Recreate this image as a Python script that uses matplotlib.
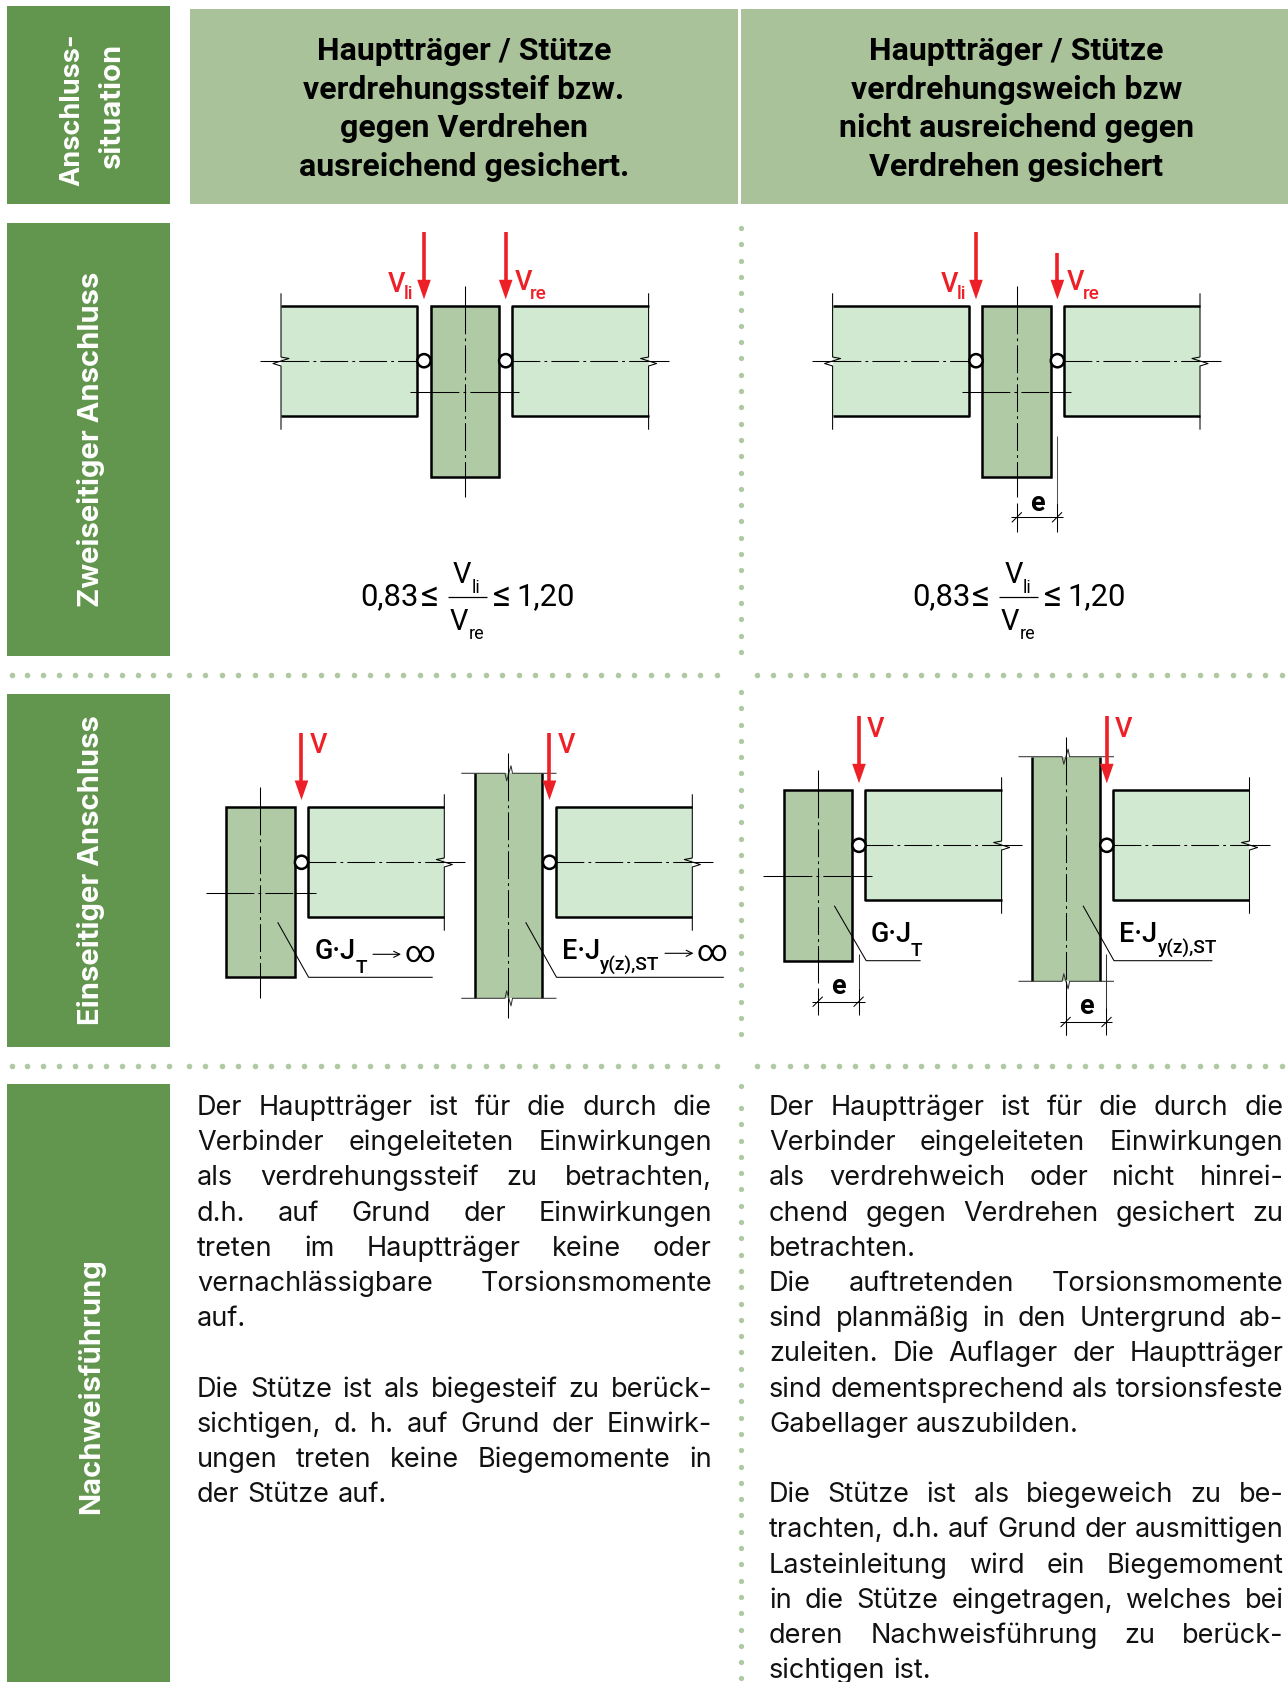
import numpy as np
import matplotlib
matplotlib.use("Agg")
import matplotlib.pyplot as plt
from matplotlib.patches import Circle, Polygon, Rectangle

W, H = 1288, 1682

plt.rcParams["font.family"] = ["Roboto", "DejaVu Sans"]
plt.rcParams["lines.scale_dashes"] = False

# Colours
SIDE = "#62964E"
HEAD = "#A9C29A"
BEAM = "#D1E9D1"
COLUMN = "#B0CAA6"
DOT = "#AFC9A2"
RED = "#EE2027"

# Text content
side_labels = ["Anschluss-", "situation", "Zweiseitiger Anschluss", "Einseitiger Anschluss", "Nachweisführung"]
head_left = ["Hauptträger / Stütze", "verdrehungssteif bzw.", "gegen Verdrehen", "ausreichend gesichert."]
head_right = ["Hauptträger / Stütze", "verdrehungsweich bzw", "nicht ausreichend gegen", "Verdrehen gesichert"]
body_left = [
    "Der Hauptträger ist für die durch die",
    "Verbinder eingeleiteten Einwirkungen",
    "als verdrehungssteif zu betrachten,",
    "d.h. auf Grund der Einwirkungen",
    "treten im Hauptträger keine oder",
    "vernachlässigbare Torsionsmomente",
    "auf.|",
    "",
    "Die Stütze ist als biegesteif zu berück-",
    "sichtigen, d. h. auf Grund der Einwirk-",
    "ungen treten keine Biegemomente in",
    "der Stütze auf.|",
]
body_right = [
    "Der Hauptträger ist für die durch die",
    "Verbinder eingeleiteten Einwirkungen",
    "als verdrehweich oder nicht hinrei-",
    "chend gegen Verdrehen gesichert zu",
    "betrachten.|",
    "Die auftretenden Torsionsmomente",
    "sind planmäßig in den Untergrund ab-",
    "zuleiten. Die Auflager der Hauptträger",
    "sind dementsprechend als torsionsfeste",
    "Gabellager auszubilden.|",
    "",
    "Die Stütze ist als biegeweich zu be-",
    "trachten, d.h. auf Grund der ausmittigen",
    "Lasteinleitung wird ein Biegemoment",
    "in die Stütze eingetragen, welches bei",
    "deren Nachweisführung zu berück-",
    "sichtigen ist.|",
]

THICK = 1.8
THIN = 0.75
DASHDOT = (0, (20, 3, 2, 3))

fig = plt.figure(figsize=(W / 100, H / 100), dpi=100)
ax = fig.add_axes([0, 0, 1, 1])
ax.set_xlim(0, W)
ax.set_ylim(H, 0)
ax.axis("off")
renderer = fig.canvas.get_renderer()


def px(size):
    return size * 0.72


def rect(x0, y0, x1, y1, color, z=1):
    ax.add_patch(Rectangle((x0, y0), x1 - x0, y1 - y0, fc=color, ec="none", zorder=z))


def line(xs, ys, lw=THIN, color="black", z=4, **kw):
    ax.plot(xs, ys, color=color, lw=lw, solid_capstyle="butt", zorder=z, **kw)


def axis_h(x0, x1, y, a, b):
    # solid outside the part, dash-dot across it
    line([x0, a], [y, y])
    line([b, x1], [y, y])
    line([a, b], [y, y], ls=DASHDOT)


def axis_v(x, y0, y1, a, b):
    line([x, x], [y0, a])
    line([x, x], [b, y1])
    line([x, x], [a, b], ls=DASHDOT)


def arrow(x, y0, y1):
    line([x, x], [y0, y1 - 12], lw=2.6, color=RED, z=6)
    ax.add_patch(Polygon([(x - 6.8, y1 - 19.5), (x + 6.8, y1 - 19.5), (x, y1)], fc=RED, ec="none", zorder=6))


def hinge(x, y):
    ax.add_patch(Circle((x, y), 6.6, fc="white", ec="black", lw=THICK, zorder=7))


def beam(x_in, x_end, top, bottom):
    # x_in is the end at the hinge, x_end the broken end
    s = 1 if x_end > x_in else -1
    mid = (top + bottom) / 2
    rect(min(x_in, x_end), top, max(x_in, x_end), bottom, BEAM)
    line([x_end, x_in, x_in, x_end], [top, top, bottom, bottom], lw=THICK)
    zx = [x_end, x_end, x_end - 8 * s, x_end + 8 * s, x_end, x_end]
    zy = [top - 13, mid - 4, mid - 2.5, mid + 2.5, mid + 5, bottom + 14]
    line(zx, zy)


def stub_column(x0, x1, top, bottom):
    rect(x0, top, x1, bottom, COLUMN)
    ax.add_patch(Rectangle((x0, top), x1 - x0, bottom - top, fc="none", ec="black", lw=THICK, zorder=4))


def long_column(x0, x1, top, bottom, xa):
    rect(x0, top, x1, bottom, COLUMN)
    line([x0, x0], [top, bottom], lw=THICK)
    line([x1, x1], [top, bottom], lw=THICK)
    line([x0 - 13.5, xa - 3.5, xa - 1.8, xa + 2.5, xa + 4, x1 + 14],
         [top, top, top + 7.5, top - 7.5, top, top], color="#333333")
    line([x0 - 13.5, xa - 3.5, xa - 1.8, xa + 2.5, xa + 4, x1 + 14],
         [bottom, bottom, bottom - 7.5, bottom + 7.5, bottom, bottom], color="#333333")


def leader(x0, y0, x1, y1, x2):
    line([x0, x1, x2], [y0, y1, y1], z=5)


def dim_e(xa, xb, y, ya, yb, label_y):
    # dimension with two slashes, label sits above the line
    line([xa - 6, xb + 6], [y, y])
    line([xa, xa], [ya, yb])
    line([xb, xb], [ya, yb])
    for xx in (xa, xb):
        line([xx - 5, xx + 5], [y + 5, y - 5])
    ax.text((xa + xb) / 2 + 0.5, label_y, "e", fontsize=px(27), fontweight="bold", ha="center", va="center", zorder=6)


def sub_label(x, base, main, sub_x, sub_base, sub, color="black", size=27, sub_size=19, weight="medium"):
    ax.text(x, base, main, fontsize=px(size), color=color, va="baseline", ha="left", fontweight=weight, zorder=6)
    if sub:
        ax.text(sub_x, sub_base, sub, fontsize=px(sub_size), color=color, va="baseline", ha="left", fontweight=weight, zorder=6)


def formula(xl):
    base = 605
    big = dict(fontsize=px(31), va="baseline", zorder=6)
    small = dict(fontsize=px(18), va="baseline", zorder=6)
    leq = dict(fontsize=px(36), va="baseline", zorder=6)
    ax.text(xl - 87.5, base, "0,83", **big)
    ax.text(xl - 27, base + 1, "≤", **leq)
    line([xl, xl + 39], [596.7, 596.7], lw=0.9)
    ax.text(xl + 5, 583.3, "V", fontsize=px(29), va="baseline", zorder=6)
    ax.text(xl + 23.5, 592.7, "li", **small)
    ax.text(xl + 1.5, 630, "V", fontsize=px(29), va="baseline", zorder=6)
    ax.text(xl + 20.5, 639.3, "re", **small)
    ax.text(xl + 45, base + 1, "≤", **leq)
    ax.text(xl + 68, base, "1,20", **big)


def two_sided(b0, b1, c0, c1, b2, b3, cx, ax0, ax1, hx0, hx1, al, ar, ar_top, li_x, re_x):
    top, bottom, col_bottom = 306.3, 415.7, 476.7
    beam(b1, b0, top, bottom)
    beam(b2, b3, top, bottom)
    stub_column(c0, c1, top, col_bottom)
    axis_h(ax0, b1, 360.7, b0, b1)
    axis_h(b2, ax1, 360.7, b2, b3)
    axis_h(hx0, hx1, 392, c0, c1)
    axis_v(cx, 286, 497.3, top, col_bottom)
    hinge(al, 360.7)
    hinge(ar, 360.7)
    arrow(al, 231.7, 299.3)
    arrow(ar, ar_top, 299.3)
    sub_label(li_x, 291.7, "V", li_x + 16, 298.5, "li", RED)
    sub_label(re_x, 290, "V", re_x + 15.5, 298.5, "re", RED)


def side_text(x, y, s, size):
    ax.text(x, y, s, color="white", fontsize=size, fontweight="bold", rotation=90,
            ha="center", va="center", family=["Inter", "DejaVu Sans"], zorder=3)


def justified(x0, x1, base, text, size):
    last = text.endswith("|")
    words = text.rstrip("|").split()
    items = [ax.text(0, base, w, fontsize=size, color="#111111", va="baseline", ha="left",
                     family=["Inter", "DejaVu Sans"], zorder=6) for w in words]
    widths = [t.get_window_extent(renderer).width for t in items]
    gap = 8.0 if last or len(words) < 2 else (x1 - x0 - sum(widths)) / (len(words) - 1)
    x = x0
    for t, w in zip(items, widths):
        t.set_x(x)
        x += w + gap


# Backgrounds
for y0, y1 in [(6, 204), (222.7, 656.4), (694, 1047), (1084.3, H)]:
    rect(7, y0, 170.5, y1, SIDE)
rect(190, 9, 738.5, 204, HEAD)
rect(741.5, 9, W, 204, HEAD)

# Dotted separators
for yy in (675.3, 1065.7):
    ax.plot(np.arange(11.7, 170, 15.75), np.full(11, yy), "o", color=DOT, ms=4, mec="none", zorder=2)
    row = np.arange(189, 718, 16.5)
    ax.plot(row, np.full(row.size, yy), "o", color=DOT, ms=4, mec="none", zorder=2)
    row = np.arange(757, 1288, 16.4)
    ax.plot(row, np.full(row.size, yy), "o", color=DOT, ms=4, mec="none", zorder=2)
for y0, y1 in [(228, 657), (692, 1045), (1108, H)]:
    col = np.arange(y0, y1, 16.3)
    ax.plot(np.full(col.size, 741), col, "o", color=DOT, ms=3.8, mec="none", zorder=2)
ax.plot([741], [1086], "o", color=DOT, ms=3.8, mec="none", zorder=2)

# Sidebar labels
side_text(72, 110, side_labels[0], 19.5)
side_text(112, 105, side_labels[1], 21)
side_text(91, 439.5, side_labels[2], 21)
side_text(91, 870, side_labels[3], 21)
side_text(91, 1386, side_labels[4], 21)

# Header
for i, (a, b) in enumerate(zip(head_left, head_right)):
    yb = 60 + 38.7 * i
    ax.text(464, yb, a, fontsize=23, fontweight="bold", ha="center", va="baseline", zorder=6)
    ax.text(1016.5, yb, b, fontsize=23, fontweight="bold", ha="center", va="baseline", zorder=6)

# Two-sided connections
two_sided(281, 417, 430.7, 499, 512.5, 648.6, 464.6, 260, 669, 409.6, 519.3, 424, 505.7, 231.7, 388.2, 514.6)
two_sided(832.6, 969, 982, 1051, 1064, 1200, 1016.8, 812, 1221, 961.6, 1071, 976, 1057.4, 252.7, 940.5, 1067)
formula(448)
formula(999.4)
line([1057, 1057], [435.7, 503], color="#555555")
dim_e(1016.8, 1057, 517.3, 503, 531.7, 503)

# One-sided connections, left column
stub_column(226.5, 295, 807.3, 977.3)
axis_v(260.5, 787, 998.3, 807.3, 977.3)
axis_h(206.5, 315.6, 892.7, 226.5, 295)
beam(308.2, 444.3, 807.3, 916.7)
axis_h(308.2, 465, 862.3, 308.2, 444.3)
hinge(301.5, 862.3)
arrow(301.5, 732.7, 800)
sub_label(310, 752.7, "V", 0, 0, "", RED)
leader(277.7, 922.3, 308.6, 977.3, 432.7)
sub_label(315, 959.3, "G·J", 355.5, 972.7, "T")
ax.annotate("", xy=(401, 954.3), xytext=(373, 954.3), arrowprops=dict(arrowstyle="->", lw=0.8, mutation_scale=11, shrinkA=0, shrinkB=0), zorder=6)
ax.text(420.5, 954, "∞", fontsize=px(30), ha="center", va="center", zorder=6)

long_column(474.8, 542.5, 773.3, 998.3, 508.5)
axis_v(508.5, 753, 1018, 773.3, 998.3)
beam(556.5, 692.3, 807.3, 916.7)
axis_h(556.5, 713.3, 862.3, 556.5, 692.3)
hinge(549.5, 862.3)
arrow(549.5, 732.7, 800)
sub_label(558, 752.7, "V", 0, 0, "", RED)
leader(525.7, 922.3, 556.5, 977.3, 723.8)
sub_label(562.5, 959.3, "E·J", 600, 970.7, "y(z),ST")
ax.annotate("", xy=(693.5, 953.3), xytext=(665, 953.3), arrowprops=dict(arrowstyle="->", lw=0.8, mutation_scale=11, shrinkA=0, shrinkB=0), zorder=6)
ax.text(712.5, 953, "∞", fontsize=px(30), ha="center", va="center", zorder=6)

# One-sided connections, right column
stub_column(783.8, 852, 790.3, 961)
axis_v(817.7, 770, 983, 790.3, 961)
axis_h(763, 872.4, 875.7, 783.8, 852)
beam(865.5, 1001.6, 790.3, 899.7)
axis_h(865.5, 1022, 845.3, 865.5, 1001.6)
hinge(859, 845.3)
arrow(859, 716, 783.3)
sub_label(867, 736.7, "V", 0, 0, "", RED)
leader(834.3, 905.7, 866.2, 960.7, 920.6)
sub_label(870.3, 942.3, "G·J", 911, 956, "T")
line([858.6, 858.6], [954.3, 988], color="#333333")
dim_e(817.7, 858.6, 1001.7, 988, 1015, 986.7)

long_column(1032, 1100, 756.7, 981.3, 1065.6)
axis_v(1065.6, 736.7, 1035, 756.7, 981.3)
beam(1113.4, 1249.5, 790.3, 899.7)
axis_h(1113.4, 1270, 845.3, 1113.4, 1249.5)
hinge(1106.8, 845.3)
arrow(1106.8, 716, 783.3)
sub_label(1114.8, 736.7, "V", 0, 0, "", RED)
leader(1083, 905.7, 1114, 960.7, 1212.4)
sub_label(1119, 942.3, "E·J", 1157.7, 954, "y(z),ST")
line([1106.5, 1106.5], [954.3, 1010], color="#333333")
dim_e(1065.6, 1106.5, 1022, 1008, 1035, 1006.7)

# Body text
for i, s in enumerate(body_left):
    if s:
        justified(197, 712, 1115 + 35.2 * i, s, 19.5)
for i, s in enumerate(body_right):
    if s:
        justified(769, 1283.5, 1115 + 35.2 * i, s, 19.5)

fig.savefig("out.png", dpi=100)
